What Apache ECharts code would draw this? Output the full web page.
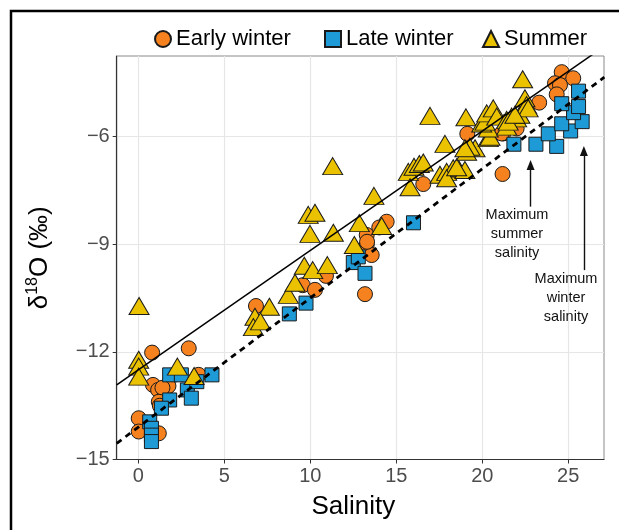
<!DOCTYPE html>
<html><head><meta charset="utf-8">
<script src="https://cdn.jsdelivr.net/npm/echarts@6/dist/echarts.min.js"></script>
<style>html,body{margin:0;padding:0;background:#fff}#c{width:619px;height:530px}</style>
</head><body><div id="c"></div>
<script>
const earlyWinter = [
[0.80,-12.02],[2.93,-11.90],[0.85,-12.92],[1.15,-13.06],[1.55,-13.10],[1.75,-12.95],[1.40,-13.00],[3.50,-12.64],[1.19,-13.39],[1.25,-13.50],[0.02,-13.85],[0.02,-14.22],[1.19,-14.27],
[6.84,-10.72],[9.56,-10.14],[10.27,-10.27],[10.91,-9.88],[13.28,-9.02],[13.57,-9.30],[13.18,-10.39],[13.28,-8.74],[13.30,-8.93],[14.01,-8.53],[14.44,-8.37],
[16.57,-7.32],[19.13,-5.92],[21.18,-7.04],[21.22,-5.91],[22.00,-5.77],[21.42,-5.58],[21.13,-5.91],[23.31,-5.05],[24.62,-4.20],[25.29,-4.37],[24.23,-4.51],[24.52,-4.56],[24.33,-4.82]
];
const lateWinter = [
[1.82,-12.64],[2.50,-12.64],[4.28,-12.64],[2.85,-13.06],[3.08,-13.29],[3.40,-12.83],[1.82,-13.34],[1.34,-13.57],[0.66,-13.95],[0.76,-14.13],[0.76,-14.32],[0.76,-14.50],
[8.78,-10.94],[9.75,-10.64],[12.50,-9.51],[12.79,-9.35],[13.18,-9.81],[16.00,-8.40],
[21.84,-6.21],[23.12,-6.21],[24.33,-6.27],[23.84,-5.92],[25.14,-5.84],[24.62,-5.64],[25.81,-5.58],[25.31,-5.33],[25.60,-5.16],[24.62,-5.08],[25.60,-4.73]
];
const summer = [
[0.04,-10.72],[0.02,-12.22],[0.02,-12.41],[0.02,-12.69],[2.27,-12.41],[3.24,-12.67],
[7.62,-10.74],[6.78,-11.02],[6.69,-11.31],[7.10,-11.15],[8.72,-10.41],[9.11,-10.07],[9.65,-9.60],[10.14,-9.72],[10.99,-9.58],[12.56,-9.02],
[11.30,-6.82],[9.88,-8.18],[10.27,-8.12],[9.98,-8.71],[11.34,-8.68],[13.70,-7.65],[12.85,-8.41],[14.15,-8.49],
[15.70,-6.98],[16.03,-6.84],[16.34,-6.76],[15.80,-7.41],[16.96,-5.42],[19.05,-5.46],[17.83,-6.20],[16.57,-6.72],[17.54,-7.06],[17.93,-6.98],[18.31,-6.88],[18.60,-6.88],[18.99,-6.93],[17.93,-7.16],[18.51,-6.85],
[19.58,-6.32],[19.28,-6.28],[19.09,-6.42],[18.99,-6.32],[20.35,-6.04],[20.45,-6.00],[20.35,-5.77],[19.97,-5.63],[20.16,-5.58],[20.26,-5.35],[20.64,-5.21],[20.84,-5.44],[21.42,-5.53],[21.42,-5.72],[21.71,-5.44],[22.00,-5.49],[22.19,-5.39],[22.48,-4.93],[22.58,-5.12],[22.67,-5.21],[22.35,-4.40],[21.51,-5.58],[21.90,-5.39]
];
const fitSolid = [[-1.26,-12.92],[27.10,-3.48]];
const fitDashed = [[-1.26,-14.55],[27.10,-4.34]];
const xTicks = [0,5,10,15,20,25];
const yTicks = [-15,-12,-9,-6];
const arrows = [[[22.81,-7.95],[22.81,-6.79]],[[25.91,-9.72],[25.91,-6.40]]];
const notes = [{text:'Maximum\nsummer\nsalinity', pos:[22.02,-7.92]},{text:'Maximum\nwinter\nsalinity', pos:[24.87,-9.70]}];

const FONT = "'Liberation Sans', Arial, sans-serif";
const chart = echarts.init(document.getElementById('c'), null, {renderer:'canvas'});
const legendBase = {orient:'horizontal', itemWidth:16, itemHeight:16, itemGap:10,
  textStyle:{fontFamily:FONT, fontSize:22, color:'#000'}, top:23, selectedMode:false};
const option = {
  animation:false,
  backgroundColor:'#fff',
  legend:[
    Object.assign({}, legendBase, {left:149, data:[{name:'Early winter', icon:'circle'}]}),
    Object.assign({}, legendBase, {left:319, data:[{name:'Late winter', icon:'rect'}]}),
    Object.assign({}, legendBase, {left:477, data:[{name:'Summer', icon:'triangle'}]})
  ],
  grid:{left:116.7, right:15, top:56, bottom:70.5, show:true, borderColor:'#8a8a8a', borderWidth:1, backgroundColor:'transparent'},
  xAxis:{type:'value', min:-1.26, max:27.08,
    name:'Salinity', nameLocation:'middle', nameGap:34,
    nameTextStyle:{fontFamily:FONT, fontSize:26, color:'#000', padding:[0,14,0,0]},
    axisLine:{show:true, onZero:false, lineStyle:{color:'#333', width:1.2}},
    axisTick:{show:true, length:4, customValues:xTicks, lineStyle:{color:'#333'}},
    axisLabel:{customValues:xTicks, fontFamily:FONT, fontSize:20, color:'#4d4d4d', margin:7},
    splitLine:{show:true, lineStyle:{color:'#e6e6e6', width:1.2}}
  },
  yAxis:{type:'value', min:-15, max:-3.75, interval:3,
    name:'{a|δ}{s|18}{a|O (‰)}', nameLocation:'middle', nameGap:62,
    nameTextStyle:{fontFamily:FONT, fontSize:26, color:'#000',
      rich:{a:{fontFamily:FONT, fontSize:26, color:'#000', lineHeight:30},
            s:{fontFamily:FONT, fontSize:16, color:'#000', verticalAlign:'top', lineHeight:30, padding:[0,0,10,0]}}},
    axisLine:{show:true, onZero:false, lineStyle:{color:'#333', width:1.2}},
    axisTick:{show:true, length:4, customValues:yTicks, lineStyle:{color:'#333'}},
    axisLabel:{customValues:yTicks, fontFamily:FONT, fontSize:20, color:'#4d4d4d', margin:7,
      formatter:v=>String(v).replace('-','\u2212')},
    splitLine:{show:true, lineStyle:{color:'#e6e6e6', width:1.2}}
  },
  series:[
    {name:'Early winter', type:'scatter', data:earlyWinter, symbol:'circle', symbolSize:15, z:3,
      itemStyle:{color:'#F5821F', borderColor:'#1a1a1a', borderWidth:1, opacity:1}},
    {name:'Late winter', type:'scatter', data:lateWinter, symbol:'rect', symbolSize:14, z:3,
      itemStyle:{color:'#1E9BD7', borderColor:'#1a1a1a', borderWidth:1, opacity:1}},
    {name:'Summer', type:'scatter', data:summer, symbol:'triangle', symbolSize:[20,17], z:3,
      itemStyle:{color:'#EBC200', borderColor:'#1a1a1a', borderWidth:1, opacity:1}},
    {name:'fitSolid', type:'line', data:fitSolid, symbol:'none', z:4, clip:true,
      lineStyle:{color:'#000', width:1.5}},
    {name:'fitDashed', type:'line', data:fitDashed, symbol:'none', z:4, clip:true,
      lineStyle:{color:'#000', width:2.8, type:[6,5]},
      markLine:{silent:true, symbol:['none','triangle'], symbolSize:[8,10], label:{show:false},
        lineStyle:{color:'#111', width:1.4, type:'solid'},
        data:arrows.map(a=>[{coord:a[0]},{coord:a[1]}])}}
  ]
};
chart.setOption(option);
const g = [{type:'rect', shape:{x:11, y:11, width:1000, height:1000}, style:{fill:'none', stroke:'#000', lineWidth:2.5}, z:100}];
notes.forEach(n=>{
  const p = chart.convertToPixel({gridIndex:0}, n.pos);
  g.push({type:'text', x:p[0], y:p[1], z:50, style:{text:n.text, font:"14.5px 'Liberation Sans', Arial, sans-serif", fill:'#111', align:'center', verticalAlign:'top', lineHeight:19}});
});
chart.setOption({graphic:g});
</script></body></html>
